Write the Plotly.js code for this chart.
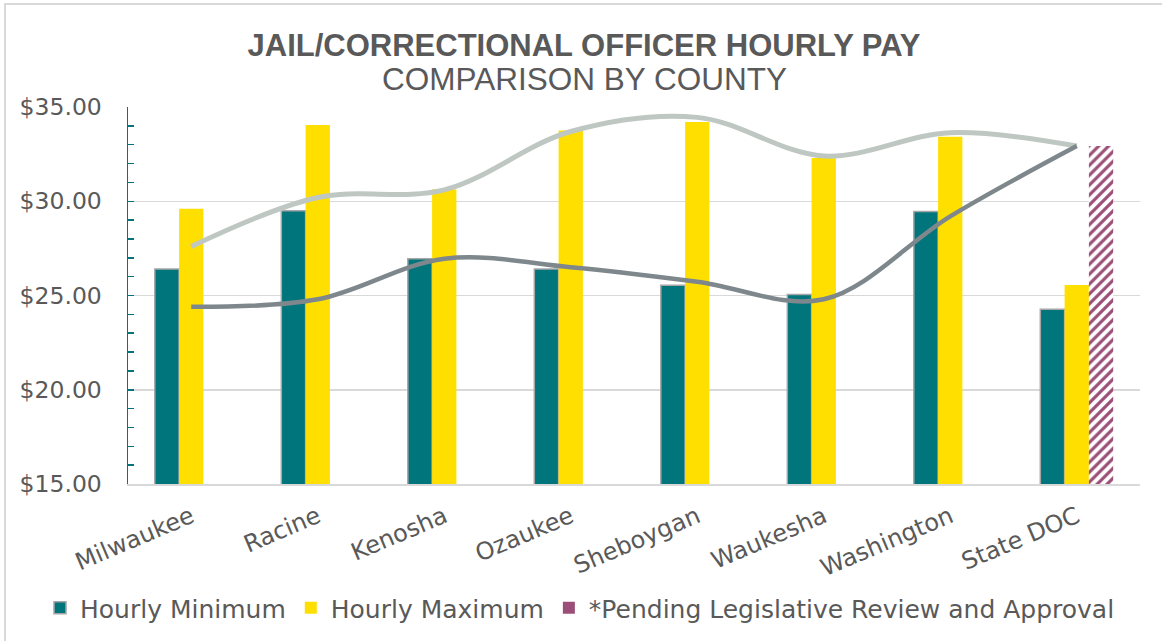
<!DOCTYPE html>
<html>
<head>
<meta charset="utf-8">
<script src="https://cdn.plot.ly/plotly-3.0.1.min.js"></script>
<style>
html,body{margin:0;padding:0;background:#fff;}
#chart{width:1162px;height:641px;}
</style>
</head>
<body>
<div id="chart"></div>
<script>
const counties = ["Milwaukee","Racine","Kenosha","Ozaukee","Sheboygan","Waukesha","Washington","State DOC"];
const hourlyMin = [26.4, 29.5, 26.95, 26.4, 25.55, 25.05, 29.45, 24.27];
const hourlyMax = [29.6, 34.05, 30.63, 33.75, 34.2, 32.3, 33.42, 25.56];
const pending = [null, null, null, null, null, null, null, 32.93];
const trendUpper = [27.6, 30.2, 30.6, 33.7, 34.45, 32.4, 33.64, 32.93];
const trendLower = [24.4, 24.8, 26.95, 26.5, 25.73, 24.8, 29.2, 32.93];

const teal = "#00757C", yellow = "#FFDF00", plum = "#9B4F78", txt = "#595959";
const fontMain = "DejaVu Sans, sans-serif";

const traces = [
  {type:"bar", name:"Hourly Minimum", x:counties, y:hourlyMin, offsetgroup:"a",
   marker:{color:teal, line:{color:"#A6A6A6", width:1.5}}},
  {type:"bar", name:"Hourly Maximum", x:counties, y:hourlyMax, offsetgroup:"b",
   marker:{color:yellow, line:{width:0}}},
  {type:"bar", name:"*Pending Legislative Review and Approval", x:counties, y:pending, offsetgroup:"c",
   showlegend:false,
   marker:{color:"#ffffff", line:{width:0}, pattern:{shape:"/", fgcolor:plum, bgcolor:"#ffffff", size:7, solidity:0.45}}},
  {type:"bar", name:"*Pending Legislative Review and Approval", x:counties, y:counties.map(()=>null), offsetgroup:"c",
   marker:{color:plum, line:{width:0}}, hoverinfo:"skip"},
  {type:"scatter", mode:"lines", x:counties, y:trendUpper, showlegend:false,
   line:{color:"#BFC7C3", width:5, shape:"spline", smoothing:1}},
  {type:"scatter", mode:"lines", x:counties, y:trendLower, showlegend:false,
   line:{color:"#7E878C", width:4.5, shape:"spline", smoothing:1}}
];

const L = 128, R = 1140, T = 107, B = 484;
const pw = R - L, ph = B - T;

const layout = {
  width:1162, height:641,
  margin:{l:L, r:1162-R, t:T, b:641-B, autoexpand:false},
  paper_bgcolor:"#ffffff", plot_bgcolor:"#ffffff",
  barmode:"group", bargap:0.424, bargroupgap:0,
  title:{text:"<b>JAIL/CORRECTIONAL OFFICER HOURLY PAY</b>", xref:"container", yref:"container",
         x:584/1162, xanchor:"center", y:1-45/641, yanchor:"middle",
         font:{family:"Liberation Sans, Arial, sans-serif", size:31, color:txt}},
  annotations:[
    {text:"COMPARISON BY COUNTY", xref:"paper", yref:"paper", showarrow:false,
     x:(584-L)/pw, xanchor:"center", y:(B-79)/ph, yanchor:"middle",
     font:{family:"Liberation Sans, Arial, sans-serif", size:31.5, color:txt}}
  ],
  xaxis:{type:"category", showgrid:false, zeroline:false, showline:true, linecolor:"#D9D9D9", linewidth:1.5,
         ticks:"", tickangle:-23, ticklabelstandoff:8,
         tickfont:{family:fontMain, size:24, color:txt}},
  yaxis:{range:[15,35], dtick:5, tick0:15, tickformat:"$.2f", showgrid:true, gridcolor:"#D9D9D9", gridwidth:1.5,
         zeroline:false, showline:true, linecolor:teal, linewidth:1.5,
         ticks:"inside", ticklen:6, tickwidth:1.5, tickcolor:teal, ticklabelstandoff:20,
         minor:{dtick:1, ticks:"inside", ticklen:6, tickwidth:1.5, tickcolor:teal, showgrid:false},
         tickfont:{family:fontMain, size:23.5, color:txt}},
  legend:{orientation:"h", xref:"paper", yref:"paper", x:(40-L)/pw, xanchor:"left",
          y:(B-608)/ph, yanchor:"middle", traceorder:"normal", bgcolor:"rgba(0,0,0,0)",
          font:{family:fontMain, size:25, color:txt}, itemwidth:30, itemclick:false},
  shapes:[
    {type:"rect", xref:"paper", yref:"paper", x0:(5-L)/pw, x1:(1175-L)/pw, y0:(B-660)/ph, y1:(B-4)/ph,
     line:{color:"#D9D9D9", width:2}, fillcolor:"rgba(0,0,0,0)", layer:"below"}
  ],
  showlegend:true
};

Plotly.newPlot("chart", traces, layout, {displayModeBar:false, staticPlot:true});
</script>
</body>
</html>
